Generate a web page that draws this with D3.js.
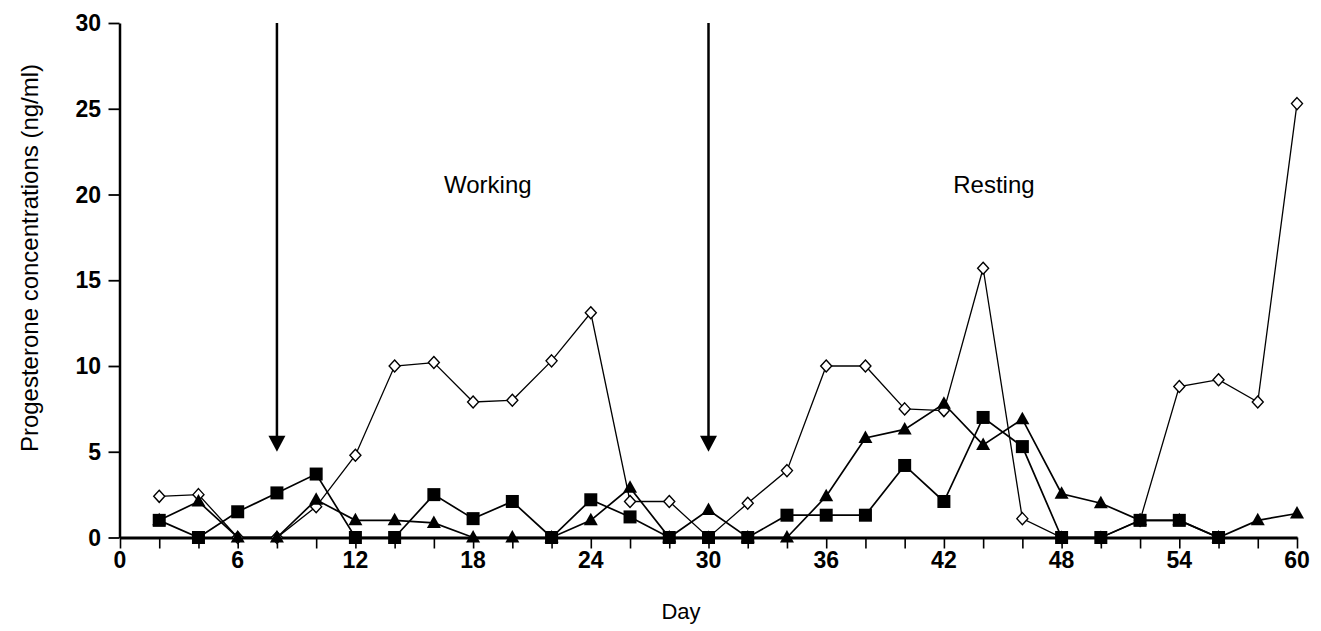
<!DOCTYPE html>
<html>
<head>
<meta charset="utf-8">
<script src="https://cdn.jsdelivr.net/npm/d3@7"></script>
<style>
  html, body { margin: 0; padding: 0; background: #fff; }
  svg { display: block; }
  text { font-family: "Liberation Sans", Arial, Helvetica, sans-serif; fill: #000; }
</style>
</head>
<body>
<svg id="chart" width="1321" height="631"></svg>
<script>
// ---- data ----
const days = [2,4,6,8,10,12,14,16,18,20,22,24,26,28,30,32,34,36,38,40,42,44,46,48,50,52,54,56,58,60];
const diamondSeries = [2.4,2.5,0,0,1.8,4.8,10.0,10.2,7.9,8.0,10.3,13.1,2.1,2.1,0,2.0,3.9,10.0,10.0,7.5,7.4,15.7,1.1,0,0,1.0,8.8,9.2,7.9,25.3];
const squareSeries  = [1.0,0,1.5,2.6,3.7,0,0,2.5,1.1,2.1,0,2.2,1.2,0,0,0,1.3,1.3,1.3,4.2,2.1,7.0,5.3,0,0,1.0,1.0,0,null,null];
const triangleSeries= [1.0,2.1,0,0,2.2,1.0,1.0,0.85,0,0,0,1.0,2.9,0,1.6,0,0,2.4,5.8,6.3,7.8,5.4,6.9,2.55,2.0,1.0,1.0,0,1.0,1.4];
const xTickLabels = [0,6,12,18,24,30,36,42,48,54,60];
const xMinorTicks = d3.range(0, 61, 2);
const yTickLabels = [0,5,10,15,20,25,30];
const arrowDays = [8, 30];
const arrowFrom = 30, arrowTo = 5;
const annotations = [
  { label: "Working", day: 18.75, value: 20.1 },
  { label: "Resting", day: 44.55, value: 20.1 }
];
const xTitle = "Day";
const yTitle = "Progesterone concentrations (ng/ml)";

// ---- scales ----
const svg = d3.select("#chart");
const x = d3.scaleLinear().domain([0, 60]).range([120, 1297]);
const y = d3.scaleLinear().domain([0, 30]).range([537.5, 23]);

// ---- axes ----
const xAxisG = svg.append("g").attr("transform", `translate(0,${y(0)})`)
  .call(d3.axisBottom(x).tickValues(xMinorTicks).tickSize(11).tickSizeOuter(0).tickFormat(""));
xAxisG.select(".domain").attr("stroke", "#000").attr("stroke-width", 3);
xAxisG.selectAll(".tick line").attr("stroke", "#000").attr("stroke-width", 1.6);

svg.append("g").selectAll("text").data(xTickLabels).join("text")
  .attr("x", d => x(d)).attr("y", y(0) + 30)
  .attr("text-anchor", "middle").attr("font-size", 23).attr("font-weight", "bold")
  .text(d => d);

const yAxisG = svg.append("g").attr("transform", `translate(${x(0) - 0.5},0)`)
  .call(d3.axisLeft(y).tickValues(yTickLabels).tickSize(11).tickSizeOuter(0).tickFormat(""));
yAxisG.select(".domain").attr("stroke", "#000").attr("stroke-width", 2.5);
yAxisG.selectAll(".tick line").attr("stroke", "#000").attr("stroke-width", 1.8);

svg.append("g").selectAll("text").data(yTickLabels).join("text")
  .attr("x", 101).attr("y", d => y(d))
  .attr("dy", "0.35em")
  .attr("text-anchor", "end").attr("font-size", 23).attr("font-weight", "bold")
  .text(d => d);

// axis titles
svg.append("text")
  .attr("transform", `translate(38,258) rotate(-90)`)
  .attr("text-anchor", "middle").attr("font-size", 24)
  .text(yTitle);
svg.append("text")
  .attr("x", 681).attr("y", 619)
  .attr("text-anchor", "middle").attr("font-size", 22)
  .text(xTitle);

// ---- arrows ----
arrowDays.forEach(d => {
  const ax = x(d);
  svg.append("line")
    .attr("x1", ax).attr("x2", ax)
    .attr("y1", y(arrowFrom)).attr("y2", y(arrowTo) - 10)
    .attr("stroke", "#000").attr("stroke-width", 2.5);
  svg.append("path")
    .attr("d", `M${ax - 8.5},${y(arrowTo) - 16} L${ax + 8.5},${y(arrowTo) - 16} L${ax},${y(arrowTo)} Z`)
    .attr("fill", "#000");
});

// ---- annotations ----
svg.append("g").selectAll("text").data(annotations).join("text")
  .attr("x", d => x(d.day)).attr("y", d => y(d.value))
  .attr("text-anchor", "middle").attr("font-size", 24)
  .text(d => d.label);

// ---- series ----
function seriesData(vals) {
  return days.map((d, i) => ({ day: d, v: vals[i] }));
}
const line = d3.line()
  .defined(d => d.v !== null)
  .x(d => x(d.day)).y(d => y(d.v));

const dDia = seriesData(diamondSeries);
const dSq = seriesData(squareSeries);
const dTri = seriesData(triangleSeries);

svg.append("path").datum(dDia).attr("d", line)
  .attr("fill", "none").attr("stroke", "#000").attr("stroke-width", 1.3);
svg.append("path").datum(dTri).attr("d", line)
  .attr("fill", "none").attr("stroke", "#000").attr("stroke-width", 1.7);
svg.append("path").datum(dSq).attr("d", line)
  .attr("fill", "none").attr("stroke", "#000").attr("stroke-width", 1.7);

// diamonds (open)
svg.append("g").selectAll("path").data(dDia.filter(d => d.v !== null)).join("path")
  .attr("transform", d => `translate(${x(d.day)},${y(d.v)})`)
  .attr("d", "M0,-6 L5.5,0 L0,6 L-5.5,0 Z")
  .attr("fill", "#fff").attr("stroke", "#000").attr("stroke-width", 1.4);

// triangles (filled)
svg.append("g").selectAll("path").data(dTri.filter(d => d.v !== null)).join("path")
  .attr("transform", d => `translate(${x(d.day)},${y(d.v)})`)
  .attr("d", "M0,-7.5 L7,5 L-7,5 Z")
  .attr("fill", "#000");

// squares (filled)
svg.append("g").selectAll("rect").data(dSq.filter(d => d.v !== null)).join("rect")
  .attr("x", d => x(d.day) - 6.5).attr("y", d => y(d.v) - 6.5)
  .attr("width", 13).attr("height", 13)
  .attr("fill", "#000");
</script>
</body>
</html>
